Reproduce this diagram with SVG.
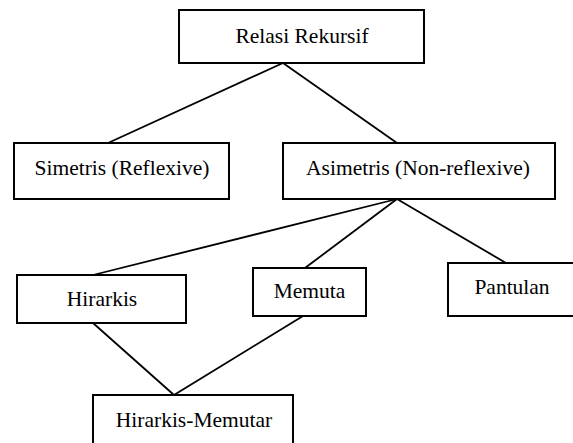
<svg xmlns="http://www.w3.org/2000/svg" width="573" height="443" viewBox="0 0 573 443">
<style>
.box{fill:#fff;stroke:#000;stroke-width:2}
.lbl{font-family:'Liberation Serif','Times New Roman',serif;font-size:21.5px;fill:#000;text-anchor:middle}
.edge{stroke:#000;stroke-width:1.8;fill:none}
</style>
<rect width="573" height="443" fill="#fff"/>
<g id="connectors">
<line class="edge" x1="283" y1="63" x2="108" y2="143"/>
<line class="edge" x1="283" y1="63" x2="397" y2="143"/>
<line class="edge" x1="397" y1="199" x2="93" y2="275"/>
<line class="edge" x1="397" y1="199" x2="305" y2="268"/>
<line class="edge" x1="397" y1="199" x2="506" y2="263"/>
<line class="edge" x1="93" y1="323" x2="174" y2="395"/>
<line class="edge" x1="303" y1="316" x2="174" y2="395"/>
</g>
<g id="relasi">
<rect class="box" x="179" y="10" width="245" height="53"/>
<text class="lbl" x="302" y="43">Relasi Rekursif</text>
</g>
<g id="simetris">
<rect class="box" x="14" y="143" width="215" height="56"/>
<text class="lbl" x="122" y="175">Simetris (Reflexive)</text>
</g>
<g id="asimetris">
<rect class="box" x="283" y="143" width="272" height="56"/>
<text class="lbl" x="418" y="175">Asimetris (Non-reflexive)</text>
</g>
<g id="hirarkis">
<rect class="box" x="17" y="275" width="169" height="48"/>
<text class="lbl" x="102" y="306">Hirarkis</text>
</g>
<g id="memuta">
<rect class="box" x="253" y="268" width="113" height="48"/>
<text class="lbl" x="309.5" y="298">Memuta</text>
</g>
<g id="pantulan">
<rect class="box" x="448" y="263" width="128" height="53"/>
<text class="lbl" x="512" y="294">Pantulan</text>
</g>
<g id="hirarkis-memutar">
<rect class="box" x="93" y="395" width="200" height="60"/>
<text class="lbl" x="194" y="427">Hirarkis-Memutar</text>
</g>
</svg>
